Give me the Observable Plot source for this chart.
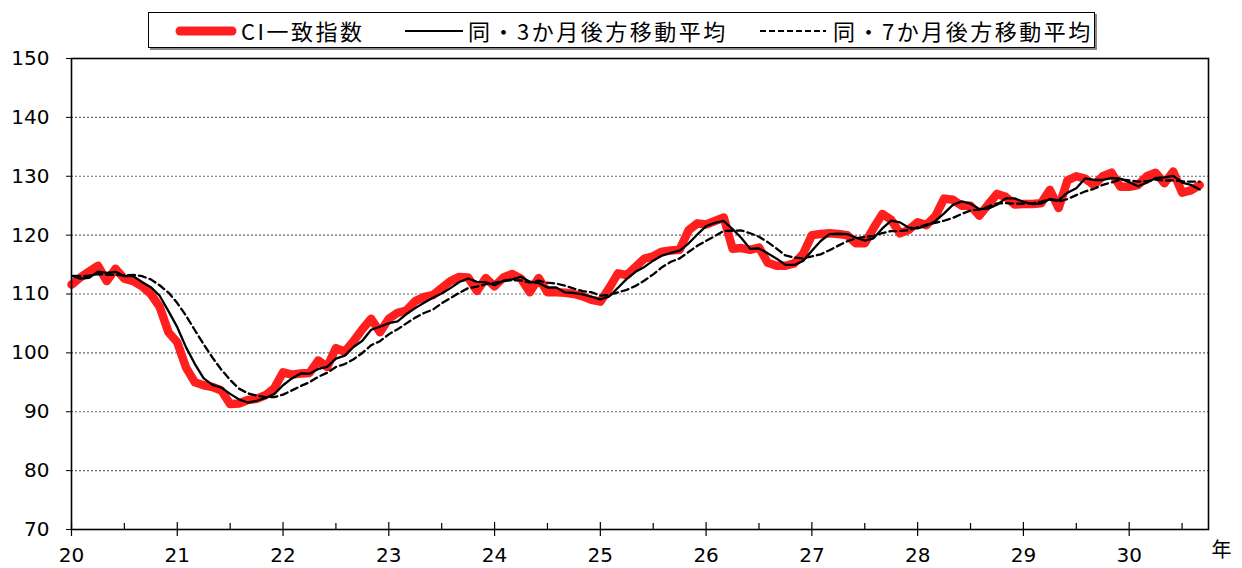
<!DOCTYPE html>
<html><head><meta charset="utf-8">
<script src="https://cdn.jsdelivr.net/npm/d3@7"></script>
<script src="https://cdn.jsdelivr.net/npm/@observablehq/plot@0.6"></script>
<style>
body{margin:0;background:#fff;}
#legend{position:relative;width:1242px;height:50px;z-index:1;}
#box{position:absolute;left:148px;top:12px;width:945px;height:34px;border:1px solid #000;box-shadow:2px 2px 0 #8a8a8a;font-family:"Noto Sans CJK JP";font-size:22px;letter-spacing:2.5px;color:#000;background:#fff;}
#box .s{position:absolute;top:0;height:34px;}
#box .t{position:absolute;top:0;height:34px;line-height:34px;white-space:nowrap;}
#chart svg{overflow:visible;}
</style>
</head><body>
<div id="legend"><div id="box"></div></div>
<div id="chart"></div>
<script>
// Months from H19 Jul to H19 Dec (only used so the trailing averages start correctly)
const preMonths = [113.5, 113.1, 113.0, 112.9, 114.3, 113.4];
// CI coincident index, monthly from H20 Jan to H30 Sep
const ci = [
  111.6, 112.8, 113.8, 114.8, 112.2, 114.3, 112.6, 112.2, 111.3, 110.0, 107.8, 103.5,
  101.8, 97.5, 95.0, 94.5, 94.2, 93.6, 91.3, 91.4, 92.0, 92.2, 92.8, 94.0,
  96.7, 96.3, 96.5, 96.6, 98.7, 97.6, 100.8, 100.2, 102.0, 104.0, 105.8, 103.5,
  105.8, 106.8, 107.2, 108.8, 109.5, 109.8, 111.0, 112.2, 112.9, 112.8, 110.5, 112.7,
  111.3, 112.8, 113.4, 112.6, 110.3, 112.7, 110.3, 110.3, 110.2, 110.0, 109.6, 109.0,
  108.7, 111.0, 113.5, 113.2, 114.6, 116.0, 116.4, 117.2, 117.4, 117.5, 120.8, 122.0,
  121.8, 122.4, 123.0, 117.7, 117.8, 117.5, 117.9, 115.3, 114.8, 114.8, 115.2, 116.8,
  120.0, 120.2, 120.3, 120.2, 120.0, 118.6, 118.6, 121.2, 123.6, 122.6, 120.3, 120.9,
  122.2, 121.7, 123.2, 126.2, 126.0, 125.0, 125.0, 123.3, 125.2, 127.0, 126.5, 125.2,
  125.3, 125.3, 125.4, 127.7, 124.6, 129.3, 130.0, 129.6, 128.5, 130.0, 130.6, 128.2,
  128.2, 128.5, 130.0, 130.6, 128.8, 130.8, 127.2, 127.6, 128.5
];
const startYear = 20;
const yearTicks = [20, 21, 22, 23, 24, 25, 26, 27, 28, 29, 30];
const halfYearTicks = [20.5, 21.5, 22.5, 23.5, 24.5, 25.5, 26.5, 27.5, 28.5, 29.5, 30.5];
const yTicks = [70, 80, 90, 100, 110, 120, 130, 140, 150];
const gridValues = [80, 90, 100, 110, 120, 130, 140];
const legendLabels = ["CI一致指数", "同・3か月後方移動平均", "同・7か月後方移動平均"];

const allValues = preMonths.concat(ci);
const allRows = allValues.map((v, i) => ({x: startYear + (i - preMonths.length) / 12, v}));
const ciRows = allRows.filter(d => d.x >= startYear);

const red = "#ff1f1f";

// legend
const box = document.getElementById("box");
function sample(left, width, html) {
  const d = document.createElement("div");
  d.className = "s"; d.style.left = left + "px"; d.style.width = width + "px";
  d.innerHTML = `<svg width="${width}" height="34">${html}</svg>`;
  box.appendChild(d);
}
function label(left, text) {
  const d = document.createElement("div");
  d.className = "t"; d.style.left = left + "px"; d.textContent = text;
  box.appendChild(d);
}
sample(26, 62, `<line x1="5" x2="57" y1="18" y2="18" stroke="${red}" stroke-width="9" stroke-linecap="round"/>`);
label(92, legendLabels[0]);
sample(256, 58, `<line x1="0" x2="58" y1="18" y2="18" stroke="#000" stroke-width="2.2"/>`);
label(319, legendLabels[1]);
sample(611, 66, `<line x1="0" x2="66" y1="18" y2="18" stroke="#000" stroke-width="2.2" stroke-dasharray="6,3"/>`);
label(684, legendLabels[2]);

const chart = Plot.plot({
  width: 1242, height: 518,
  marginLeft: 71, marginRight: 34, marginTop: 8, marginBottom: 39,
  style: {fontFamily: "DejaVu Sans", fontSize: "20px", background: "transparent", color: "#000"},
  x: {domain: [20, 30.75]},
  y: {domain: [70, 150]},
  marks: [
    Plot.ruleY(gridValues, {stroke: "#666", strokeWidth: 1.2, strokeDasharray: "2,2"}),
    Plot.line(ciRows, {x: "x", y: "v", stroke: red, strokeWidth: 8.5, strokeLinejoin: "round", strokeLinecap: "round"}),
    Plot.line(allRows, Plot.windowY({k: 3, anchor: "end", reduce: "mean"}, {x: "x", y: "v", stroke: "#000", strokeWidth: 2.3, clip: true})),
    Plot.line(allRows, Plot.windowY({k: 7, anchor: "end", reduce: "mean"}, {x: "x", y: "v", stroke: "#000", strokeWidth: 2.3, strokeDasharray: "7,4", clip: true})),
    Plot.frame({stroke: "#000", strokeWidth: 1.6}),
    Plot.axisY({ticks: yTicks, tickSize: 5, tickPadding: 17, tickFormat: d => d, label: null, fontSize: 20}),
    Plot.axisX({ticks: yearTicks, tickSize: 0, tickPadding: 18, tickFormat: d => d, label: null, fontSize: 20}),
    Plot.ruleX(yearTicks, {y1: 70, y2: 70, insetTop: -7, insetBottom: -7, stroke: "#000", strokeWidth: 1.2}),
    Plot.ruleX(halfYearTicks, {y1: 70, y2: 70, insetTop: -6, stroke: "#000", strokeWidth: 1.2}),
    Plot.text(["年"], {frameAnchor: "bottom-right", dx: 23, dy: 27, text: d => d, fontSize: 20, fontFamily: "Noto Sans CJK JP"})
  ]
});
document.getElementById("chart").appendChild(chart);
</script>
</body></html>
